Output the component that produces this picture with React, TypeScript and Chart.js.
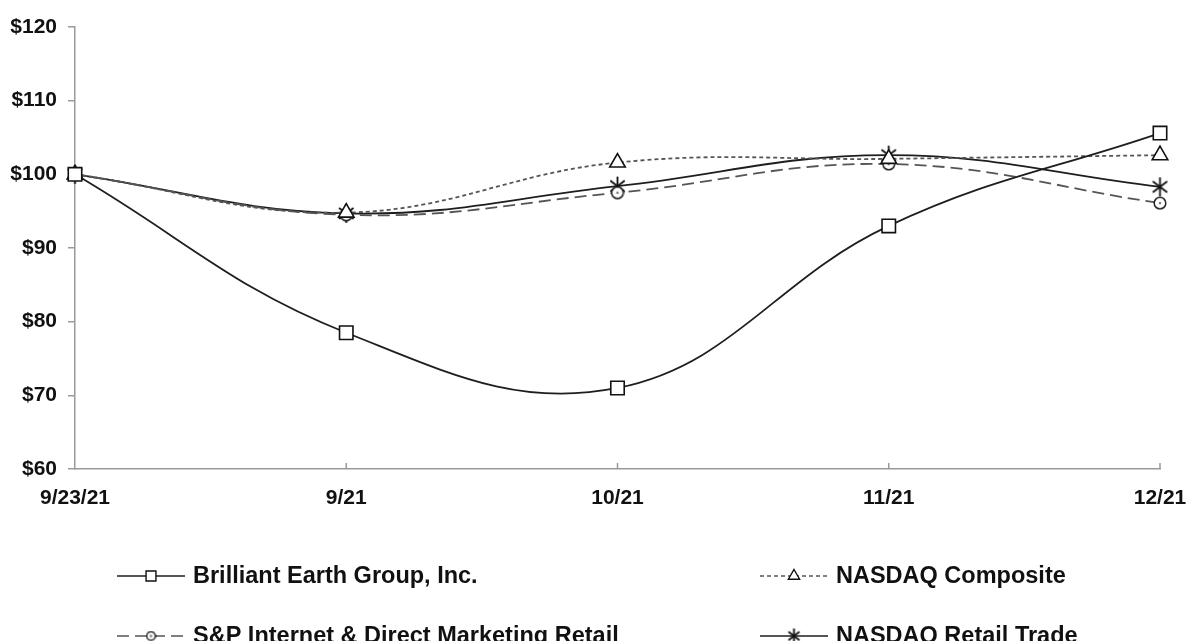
import React, { useEffect, useRef } from "react";
import { Chart, registerables } from "chart.js";
import { drawPoint } from "chart.js/helpers";

Chart.register(...registerables);

const categories = ["9/23/21", "9/21", "10/21", "11/21", "12/21"];
const brilliantEarth = [100, 78.5, 71.0, 93.0, 105.6];
const nasdaqComposite = [100, 94.8, 101.6, 102.1, 102.6];
const spInternet = [100, 94.5, 97.5, 101.4, 96.1];
const nasdaqRetail = [100, 94.7, 98.4, 102.6, 98.3];
const seriesLabels = [
  "Brilliant Earth Group, Inc.",
  "NASDAQ Composite",
  "S&P Internet & Direct Marketing Retail",
  "NASDAQ Retail Trade",
];
const yMin = 60;
const yMax = 120;
const yStep = 10;

const FONT = "'Liberation Sans', Arial, Helvetica, sans-serif";

function makeAsterisk(size: number): HTMLCanvasElement {
  const c = document.createElement("canvas");
  c.width = size;
  c.height = size + 2;
  const ctx = c.getContext("2d")!;
  const cx = size / 2;
  const cy = (size + 2) / 2;
  const r = size / 2 - 1;
  ctx.strokeStyle = "#111";
  ctx.lineWidth = 1.8;
  ctx.beginPath();
  ctx.moveTo(cx, cy - r - 1);
  ctx.lineTo(cx, cy + r + 1);
  ctx.moveTo(cx - r * 0.85, cy - r * 0.65);
  ctx.lineTo(cx + r * 0.85, cy + r * 0.65);
  ctx.moveTo(cx + r * 0.85, cy - r * 0.65);
  ctx.lineTo(cx - r * 0.85, cy + r * 0.65);
  ctx.stroke();
  return c;
}

function makeDotCircle(size: number): HTMLCanvasElement {
  const c = document.createElement("canvas");
  c.width = size;
  c.height = size;
  const ctx = c.getContext("2d")!;
  const cx = size / 2;
  ctx.fillStyle = "#fff";
  ctx.strokeStyle = "#222";
  ctx.lineWidth = 1.5;
  ctx.beginPath();
  ctx.arc(cx, cx, size / 2 - 1.2, 0, Math.PI * 2);
  ctx.fill();
  ctx.stroke();
  ctx.fillStyle = "#777";
  ctx.beginPath();
  ctx.arc(cx, cx, 1.3, 0, Math.PI * 2);
  ctx.fill();
  return c;
}

export default function App() {
  const ref = useRef<HTMLCanvasElement | null>(null);

  useEffect(() => {
    if (!ref.current) return;
    const asterisk = makeAsterisk(19);
    const dotCircle = makeDotCircle(14);
    const asteriskSmall = makeAsterisk(15);
    const dotCircleSmall = makeDotCircle(11);

    const legendSpecs = [
      { style: "rect", radius: 7 },
      { style: "triangle", radius: 6.5 },
      { style: dotCircleSmall, radius: 5 },
      { style: asteriskSmall, radius: 6 },
    ];

    const xTickPlugin = {
      id: "xInnerTicks",
      afterDatasetsDraw(chart: any) {
        const { ctx } = chart;
        const xs = chart.scales.x;
        const bottom = chart.chartArea.bottom;
        ctx.save();
        ctx.strokeStyle = "#999";
        ctx.lineWidth = 1.5;
        for (let i = 1; i < categories.length; i++) {
          const x = xs.getPixelForValue(i);
          ctx.beginPath();
          ctx.moveTo(x, bottom);
          ctx.lineTo(x, bottom - 6);
          ctx.stroke();
        }
        ctx.restore();
      },
    };

    const legendPlugin = {
      id: "gridLegend",
      afterDraw(chart: any) {
        const { ctx } = chart;
        const colX = [117, 760];
        const rowY = [576, 636];
        const sampleW = 68;
        ctx.save();
        chart.data.datasets.forEach((ds: any, i: number) => {
          const col = i % 2;
          const row = Math.floor(i / 2);
          const x0 = colX[col];
          const y = rowY[row];
          ctx.strokeStyle = ds.borderColor;
          ctx.lineWidth = 1.6;
          ctx.setLineDash(ds.borderDash || []);
          ctx.beginPath();
          ctx.moveTo(x0, y);
          ctx.lineTo(x0 + sampleW, y);
          ctx.stroke();
          ctx.setLineDash([]);
          const spec = legendSpecs[i];
          ctx.fillStyle = "#fff";
          ctx.strokeStyle = "#111";
          ctx.lineWidth = 1.4;
          drawPoint(ctx, { pointStyle: spec.style as any, radius: spec.radius, rotation: 0, borderWidth: 1.4 } as any, x0 + sampleW / 2, y);
          ctx.fillStyle = "#111";
          ctx.font = `bold 23.5px ${FONT}`;
          ctx.textBaseline = "middle";
          ctx.textAlign = "left";
          ctx.fillText(ds.label, x0 + sampleW + 8, y + 1);
        });
        ctx.restore();
      },
    };

    const chart = new Chart(ref.current, {
      type: "line",
      data: {
        labels: categories,
        datasets: [
          {
            label: seriesLabels[0],
            data: brilliantEarth,
            borderColor: "#1e1e1e",
            borderWidth: 1.8,
            pointStyle: "rect",
            pointRadius: 9.5,
            pointBackgroundColor: "#fff",
            pointBorderColor: "#111",
            pointBorderWidth: 1.6,
            tension: 0.4,
          },
          {
            label: seriesLabels[1],
            data: nasdaqComposite,
            borderColor: "#555",
            borderWidth: 1.8,
            borderDash: [4, 3],
            pointStyle: "triangle",
            pointRadius: 9,
            pointBackgroundColor: "#fff",
            pointBorderColor: "#111",
            pointBorderWidth: 1.6,
            tension: 0.4,
          },
          {
            label: seriesLabels[2],
            data: spInternet,
            borderColor: "#555",
            borderWidth: 1.8,
            borderDash: [12, 6],
            pointStyle: dotCircle as any,
            pointRadius: 7,
            tension: 0.4,
          },
          {
            label: seriesLabels[3],
            data: nasdaqRetail,
            borderColor: "#1e1e1e",
            borderWidth: 1.8,
            pointStyle: asterisk as any,
            pointRadius: 9,
            tension: 0.4,
          },
        ],
      },
      options: {
        animation: false,
        responsive: true,
        maintainAspectRatio: false,
        events: [],
        layout: { padding: { top: 27, right: 30, left: 0, bottom: 0 } },
        plugins: {
          legend: { display: false },
          tooltip: { enabled: false },
          title: { display: false },
        },
        scales: {
          x: {
            type: "category",
            offset: false,
            grid: { display: false },
            border: { display: true, color: "#9a9a9a", width: 1.5 },
            ticks: {
              color: "#111",
              font: { family: FONT, size: 21, weight: "bold" },
              padding: 9,
              maxRotation: 0,
              autoSkip: false,
            },
            afterFit(scale: any) {
              scale.height = 172;
              scale.paddingRight = 0;
              scale.paddingLeft = 0;
            },
          },
          y: {
            min: yMin,
            max: yMax,
            grid: {
              drawOnChartArea: false,
              drawTicks: true,
              tickLength: 7,
              color: "#9a9a9a",
              lineWidth: 1.5,
            },
            border: { display: true, color: "#9a9a9a", width: 1.5 },
            ticks: {
              stepSize: yStep,
              color: "#111",
              font: { family: FONT, size: 21, weight: "bold" },
              padding: 11,
              callback: (v: any) => "$" + v,
            },
            afterFit(scale: any) {
              scale.width = 75;
            },
          },
        },
      },
      plugins: [xTickPlugin, legendPlugin],
    });
    return () => chart.destroy();
  }, []);

  return (
    <div style={{ position: "absolute", left: 0, top: 0, width: 1190, height: 641, background: "#fff" }}>
      <canvas ref={ref} />
    </div>
  );
}
